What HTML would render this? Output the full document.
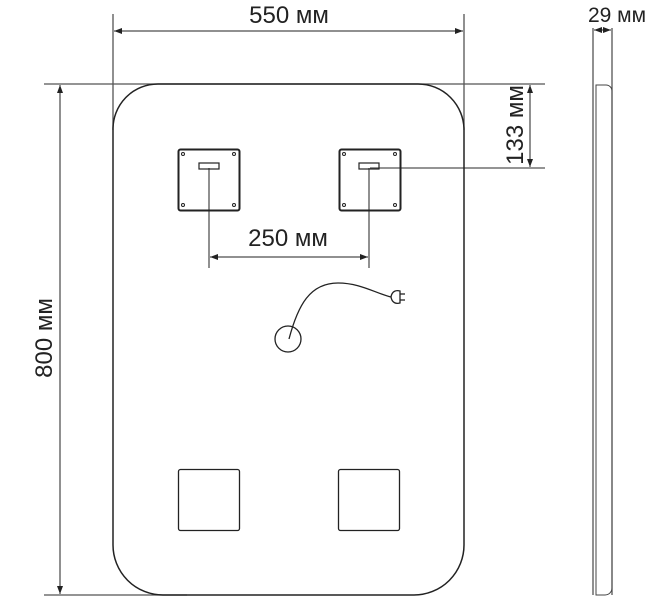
<!DOCTYPE html>
<html><head><meta charset="utf-8"><style>
html,body{margin:0;padding:0;background:#fff;}
svg{display:block;}
text{font-family:"Liberation Sans",sans-serif;fill:#222;}
</style></head><body>
<svg width="670" height="600" viewBox="0 0 670 600" xmlns="http://www.w3.org/2000/svg">
<defs>
<marker id="a" markerWidth="8" markerHeight="6" refX="8" refY="3" orient="auto-start-reverse" markerUnits="userSpaceOnUse"><path d="M0,0 L8,3 L0,6z" fill="#222"/></marker>
</defs>
<g stroke="#555" stroke-width="1.3" fill="none">
<line x1="113" y1="14" x2="113" y2="130"/>
<line x1="464" y1="14" x2="464" y2="130"/>
<line x1="44" y1="84" x2="545" y2="84"/>
<line x1="44" y1="595" x2="187" y2="595"/>
<line x1="370" y1="168" x2="545" y2="168"/>
<line x1="209" y1="168" x2="209" y2="268"/>
<line x1="369" y1="168" x2="369" y2="268"/>
<line x1="593" y1="28" x2="593" y2="595"/>
<line x1="612" y1="28" x2="612" y2="595"/>
</g>
<g stroke="#222" stroke-width="1" fill="none">
<line x1="114" y1="31" x2="463" y2="31" marker-start="url(#a)" marker-end="url(#a)"/>
<line x1="60" y1="85" x2="60" y2="594" marker-start="url(#a)" marker-end="url(#a)"/>
<line x1="530" y1="85" x2="530" y2="167" marker-start="url(#a)" marker-end="url(#a)"/>
<line x1="210" y1="257" x2="368" y2="257" marker-start="url(#a)" marker-end="url(#a)"/>
<line x1="594" y1="30" x2="611" y2="30" marker-start="url(#a)" marker-end="url(#a)"/>
</g>
<path d="M158,84 H418 A46,46 0 0 1 464,130 V545 A50,50 0 0 1 414,595 H163 A50,50 0 0 1 113,545 V130 A45,45 0 0 1 158,84 Z" fill="none" stroke="#222" stroke-width="1.5"/>
<path d="M596,595 V85 H606 A6,6 0 0 1 612,91 V588 A7,7 0 0 1 605,595 Z" fill="none" stroke="#444" stroke-width="1"/>
<g stroke="#222" fill="none">
<rect x="178.5" y="149.5" width="61" height="61" rx="2" stroke-width="2"/>
<rect x="339.5" y="149.5" width="61" height="61" rx="2" stroke-width="2"/>
<rect x="199" y="163" width="20" height="6" stroke-width="1.2"/>
<rect x="359" y="163" width="20" height="6" stroke-width="1.2"/>
<g stroke-width="1"><circle cx="183" cy="154" r="1.5"/><circle cx="234" cy="154" r="1.5"/><circle cx="183" cy="205" r="1.5"/><circle cx="234" cy="205" r="1.5"/>
<circle cx="344" cy="154" r="1.5"/><circle cx="395" cy="154" r="1.5"/><circle cx="344" cy="205" r="1.5"/><circle cx="395" cy="205" r="1.5"/></g>
<rect x="178.5" y="469.5" width="61" height="61" rx="2" stroke-width="1.3"/>
<rect x="338.5" y="469.5" width="61" height="61" rx="2" stroke-width="1.3"/>
<circle cx="288" cy="339" r="13" stroke-width="1.3"/>
<path d="M289,339 C298,305 310,283 338,283 C360,283 375,293 391,297" stroke-width="1.3"/>
<path d="M391,297 C392,291 396,290 400,291 V303 C396,304 392,303 391,297 Z" stroke-width="1.3"/>
<line x1="400" y1="294" x2="405" y2="294" stroke-width="1.3"/>
<line x1="400" y1="300" x2="405" y2="300" stroke-width="1.3"/>
</g>
<text x="289" y="23" font-size="24" text-anchor="middle">550 мм</text>
<text x="617" y="22" font-size="21" text-anchor="middle">29 мм</text>
<text x="288" y="246" font-size="24" text-anchor="middle">250 мм</text>
<text transform="translate(52,338) rotate(-90)" font-size="24" text-anchor="middle">800 мм</text>
<text transform="translate(523,125) rotate(-90)" font-size="24" text-anchor="middle">133 мм</text>
</svg>
</body></html>
